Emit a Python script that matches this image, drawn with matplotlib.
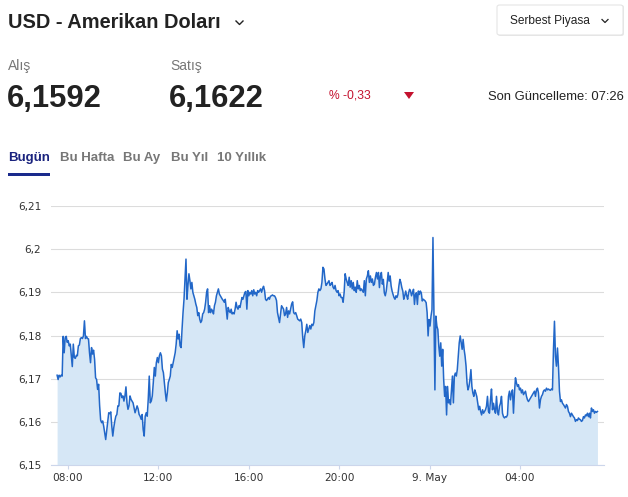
import numpy as np
import matplotlib
matplotlib.use("Agg")
import matplotlib.pyplot as plt
from matplotlib.patches import FancyBboxPatch, Rectangle, Polygon
from matplotlib.lines import Line2D

# USD - Amerikan Dolari, gun ici grafik (8-9 May)

W, H = 628, 497

# fiyat verisi, bes parca halinde (saat: 8 May 00:00'dan itibaren)
seg_edges = [7.52, 12.18, 16.96, 21.74, 26.52, 31.43]

seg1 = [6.1708, 6.1698, 6.1708, 6.1704, 6.1708, 6.1706, 6.1798, 6.1760, 6.1795, 6.1798,
        6.1784, 6.1788, 6.1776, 6.1780, 6.1753, 6.1728, 6.1780, 6.1749, 6.1747, 6.1754,
        6.1753, 6.1776, 6.1778, 6.1793, 6.1795, 6.1793, 6.1799, 6.1834, 6.1793, 6.1798,
        6.1793, 6.1792, 6.1760, 6.1737, 6.1772, 6.1757, 6.1766, 6.1745, 6.1702, 6.1698,
        6.1675, 6.1687, 6.1637, 6.1604, 6.1598, 6.1602, 6.1590, 6.1575, 6.1559, 6.1579,
        6.1598, 6.1621, 6.1619, 6.1623, 6.1590, 6.1567, 6.1587, 6.1602, 6.1613, 6.1617,
        6.1637, 6.1637, 6.1667, 6.1666, 6.1656, 6.1660, 6.1648, 6.1660, 6.1681, 6.1644,
        6.1629, 6.1637, 6.1660, 6.1652, 6.1648, 6.1644, 6.1633, 6.1621, 6.1629, 6.1637,
        6.1630, 6.1617, 6.1613, 6.1606, 6.1617, 6.1582, 6.1567, 6.1613, 6.1621, 6.1613,
        6.1652, 6.1706, 6.1644, 6.1648, 6.1660, 6.1691, 6.1726, 6.1706, 6.1737, 6.1749,
        6.1737, 6.1753, 6.1760, 6.1753]

seg2 = [6.1722, 6.1714, 6.1691, 6.1667, 6.1648, 6.1667, 6.1691, 6.1698, 6.1706, 6.1733,
        6.1726, 6.1737, 6.1749, 6.1760, 6.1780, 6.1811, 6.1792, 6.1803, 6.1776, 6.1772,
        6.1815, 6.1853, 6.1884, 6.1931, 6.1977, 6.1884, 6.1916, 6.1943, 6.1927, 6.1908,
        6.1923, 6.1900, 6.1892, 6.1884, 6.1873, 6.1865, 6.1846, 6.1853, 6.1838, 6.1830,
        6.1834, 6.1850, 6.1853, 6.1861, 6.1877, 6.1900, 6.1908, 6.1853, 6.1869, 6.1853,
        6.1861, 6.1857, 6.1850, 6.1869, 6.1877, 6.1892, 6.1900, 6.1908, 6.1896, 6.1892,
        6.1888, 6.1884, 6.1881, 6.1877, 6.1884, 6.1861, 6.1838, 6.1865, 6.1857, 6.1853,
        6.1861, 6.1850, 6.1853, 6.1850, 6.1861, 6.1877, 6.1865, 6.1861, 6.1869, 6.1865,
        6.1877, 6.1888, 6.1884, 6.1892, 6.1900, 6.1902, 6.1861, 6.1904, 6.1892, 6.1900,
        6.1896, 6.1904, 6.1892, 6.1906, 6.1896, 6.1900, 6.1892, 6.1904, 6.1900, 6.1904,
        6.1908, 6.1900, 6.1909, 6.1914, 6.1904, 6.1884, 6.1881, 6.1884, 6.1888, 6.1884]

seg3 = [6.1891, 6.1892, 6.1894, 6.1892, 6.1892, 6.1888, 6.1881, 6.1853, 6.1842, 6.1830,
        6.1850, 6.1869, 6.1865, 6.1861, 6.1846, 6.1850, 6.1865, 6.1842, 6.1857, 6.1850,
        6.1861, 6.1873, 6.1878, 6.1853, 6.1850, 6.1853, 6.1846, 6.1838, 6.1836, 6.1834,
        6.1838, 6.1830, 6.1795, 6.1772, 6.1799, 6.1811, 6.1826, 6.1807, 6.1815, 6.1823,
        6.1815, 6.1826, 6.1823, 6.1830, 6.1857, 6.1869, 6.1881, 6.1900, 6.1908, 6.1904,
        6.1908, 6.1923, 6.1958, 6.1954, 6.1931, 6.1916, 6.1919, 6.1923, 6.1927, 6.1916,
        6.1919, 6.1923, 6.1912, 6.1908, 6.1916, 6.1904, 6.1900, 6.1904, 6.1892, 6.1896,
        6.1888, 6.1888, 6.1877, 6.1900, 6.1943, 6.1931, 6.1923, 6.1916, 6.1935, 6.1912,
        6.1927, 6.1908, 6.1923, 6.1904, 6.1912, 6.1900, 6.1927, 6.1908, 6.1916, 6.1904,
        6.1908, 6.1904, 6.1900, 6.1927, 6.1892, 6.1931, 6.1938, 6.1950, 6.1923, 6.1938,
        6.1923, 6.1931, 6.1916, 6.1919, 6.1935, 6.1946, 6.1931]

seg4 = [6.1946, 6.1911, 6.1938, 6.1946, 6.1919, 6.1930, 6.1899, 6.1892, 6.1903, 6.1923,
        6.1946, 6.1926, 6.1938, 6.1915, 6.1903, 6.1895, 6.1888, 6.1884, 6.1892, 6.1888,
        6.1895, 6.1915, 6.1930, 6.1923, 6.1911, 6.1903, 6.1884, 6.1892, 6.1903, 6.1892,
        6.1884, 6.1899, 6.1907, 6.1903, 6.1892, 6.1899, 6.1907, 6.1872, 6.1895, 6.1899,
        6.1872, 6.1903, 6.1895, 6.1903, 6.1899, 6.1880, 6.1884, 6.1882, 6.1880, 6.1876,
        6.1853, 6.1799, 6.1837, 6.1822, 6.1845, 6.1860, 6.2027, 6.1860, 6.1674, 6.1845,
        6.1822, 6.1814, 6.1775, 6.1752, 6.1783, 6.1729, 6.1768, 6.1698, 6.1659, 6.1682,
        6.1616, 6.1682, 6.1644, 6.1651, 6.1640, 6.1674, 6.1706, 6.1644, 6.1706, 6.1713,
        6.1706, 6.1721, 6.1752, 6.1783, 6.1799, 6.1783, 6.1768, 6.1791, 6.1768, 6.1752,
        6.1729, 6.1690, 6.1674, 6.1682, 6.1698, 6.1721, 6.1682, 6.1667, 6.1659, 6.1674,
        6.1667, 6.1659, 6.1644, 6.1628, 6.1636, 6.1624, 6.1616, 6.1628, 6.1620, 6.1624,
        6.1628]

seg5 = [6.1636, 6.1659, 6.1624, 6.1620, 6.1651, 6.1676, 6.1628, 6.1643, 6.1628, 6.1620,
        6.1659, 6.1624, 6.1616, 6.1636, 6.1643, 6.1659, 6.1620, 6.1612, 6.1609, 6.1612,
        6.1611, 6.1616, 6.1659, 6.1671, 6.1651, 6.1667, 6.1674, 6.1620, 6.1667, 6.1702,
        6.1690, 6.1682, 6.1686, 6.1674, 6.1678, 6.1667, 6.1674, 6.1663, 6.1667, 6.1671,
        6.1659, 6.1651, 6.1647, 6.1651, 6.1655, 6.1659, 6.1663, 6.1667, 6.1671, 6.1659,
        6.1674, 6.1678, 6.1667, 6.1632, 6.1651, 6.1659, 6.1663, 6.1671, 6.1674, 6.1671,
        6.1678, 6.1674, 6.1676, 6.1674, 6.1673, 6.1676, 6.1674, 6.1767, 6.1833, 6.1752,
        6.1729, 6.1771, 6.1729, 6.1671, 6.1647, 6.1651, 6.1643, 6.1640, 6.1636, 6.1632,
        6.1640, 6.1636, 6.1624, 6.1620, 6.1612, 6.1620, 6.1616, 6.1612, 6.1609, 6.1601,
        6.1605, 6.1603, 6.1609, 6.1606, 6.1605, 6.1601, 6.1603, 6.1612, 6.1609, 6.1616,
        6.1614, 6.1620, 6.1612, 6.1620, 6.1609, 6.1632, 6.1624, 6.1628, 6.1620, 6.1624,
        6.1622, 6.1624]

segments = [seg1, seg2, seg3, seg4, seg5]

y_ticks = [6.15, 6.16, 6.17, 6.18, 6.19, 6.2, 6.21]
y_labels = ["6,15", "6,16", "6,17", "6,18", "6,19", "6,2", "6,21"]
x_ticks = [8, 12, 16, 20, 24, 28]
x_labels = ["08:00", "12:00", "16:00", "20:00", "9. May", "04:00"]

tabs = ["Bugün", "Bu Hafta", "Bu Ay", "Bu Yıl", "10 Yıllık"]
tab_x = [8, 60, 123, 171, 217]

# zaman ekseni: her parca kendi baslangic/bitis saatine yayiliyor
times, vals = [], []
for i, seg in enumerate(segments):
    last = i == len(segments) - 1
    t = np.linspace(seg_edges[i], seg_edges[i + 1], len(seg), endpoint=last)
    times.extend(t)
    vals.extend(seg)
times = np.array(times)
vals = np.array(vals)

fig = plt.figure(figsize=(W / 100, H / 100), dpi=100)
fig.patch.set_facecolor("white")


def fx(x):
    return x / W


def fy(y):
    return 1 - y / H


HEAD = "Liberation Sans"
DARK = "#222222"

# baslik
fig.text(fx(8), fy(28), "USD - Amerikan Doları", fontsize=14.4, fontweight="bold",
         family=HEAD, color=DARK, va="baseline")
fig.add_artist(Line2D([fx(236), fx(239.5), fx(243)], [fy(21), fy(24.5), fy(21)],
                      color=DARK, lw=1.0))

# Serbest Piyasa kutusu
fig.add_artist(FancyBboxPatch((fx(498), fy(36)), fx(126), 31 / H,
                              boxstyle="round,pad=0,rounding_size=0.004",
                              fc="#e9e9e9", ec="none", transform=fig.transFigure))
fig.add_artist(FancyBboxPatch((fx(497), fy(35)), fx(126), 30 / H,
                              boxstyle="round,pad=0,rounding_size=0.004",
                              fc="white", ec="#e2e2e2", lw=0.7, transform=fig.transFigure))
fig.text(fx(510), fy(24), "Serbest Piyasa", fontsize=8.6, family=HEAD,
         color=DARK, va="baseline")
fig.add_artist(Line2D([fx(602), fx(605), fx(608)], [fy(19.5), fy(22.5), fy(19.5)],
                      color=DARK, lw=0.9))

# alis / satis
fig.text(fx(8), fy(70), "Alış", fontsize=10, family=HEAD, color="#777777", va="baseline")
fig.text(fx(170), fy(70), "Satış", fontsize=10, family=HEAD, color="#777777", va="baseline")
fig.text(fx(7), fy(107.5), "6,1592", fontsize=22.3, fontweight="bold", family=HEAD,
         color=DARK, va="baseline")
fig.text(fx(169), fy(107.5), "6,1622", fontsize=22.3, fontweight="bold", family=HEAD,
         color=DARK, va="baseline")

fig.text(fx(329), fy(99), "% -0,33", fontsize=8.7, family=HEAD, color="#c4122f",
         va="baseline")
fig.add_artist(Polygon([[fx(404), fy(92)], [fx(414), fy(92)], [fx(409), fy(99)]],
                       closed=True, fc="#c4122f", ec="none", transform=fig.transFigure))
fig.text(fx(624), fy(100), "Son Güncelleme: 07:26", fontsize=9.4, family=HEAD,
         color=DARK, va="baseline", ha="right")

# sekmeler
for i, (name, x) in enumerate(zip(tabs, tab_x)):
    fig.text(fx(x), fy(161), name, fontsize=9.5, fontweight="bold", family=HEAD,
             color="#1a237e" if i == 0 else "#777777", va="baseline")
fig.add_artist(Rectangle((fx(8), fy(176)), fx(42), 3 / H, fc="#1a2a8c", ec="none",
                         transform=fig.transFigure))

# grafik alani
ax = fig.add_axes([fx(51), fy(465), fx(604 - 51), (465 - 206) / H])
ax.fill_between(times, vals, 6.15, color="#d6e7f6", lw=0)
ax.plot(times, vals, color="#2267c8", lw=1.1)

ax.set_xlim(7.25, 31.72)
ax.set_ylim(6.15, 6.21)
ax.set_yticks(y_ticks)
ax.set_yticklabels(y_labels)
ax.set_xticks(x_ticks)
ax.set_xticklabels(x_labels)
ax.grid(axis="y", color="#dcdcdc", lw=0.8)
ax.set_axisbelow(True)
for s in ["top", "left", "right"]:
    ax.spines[s].set_visible(False)
ax.spines["bottom"].set_color("#ccd6eb")
ax.spines["bottom"].set_linewidth(0.8)
ax.tick_params(axis="y", length=0, pad=7, labelsize=7.6, labelcolor="#333333")
ax.tick_params(axis="x", length=3, width=0.8, color="#ccd6eb", pad=3,
               labelsize=7.6, labelcolor="#333333")

fig.savefig("out.png", dpi=100)
